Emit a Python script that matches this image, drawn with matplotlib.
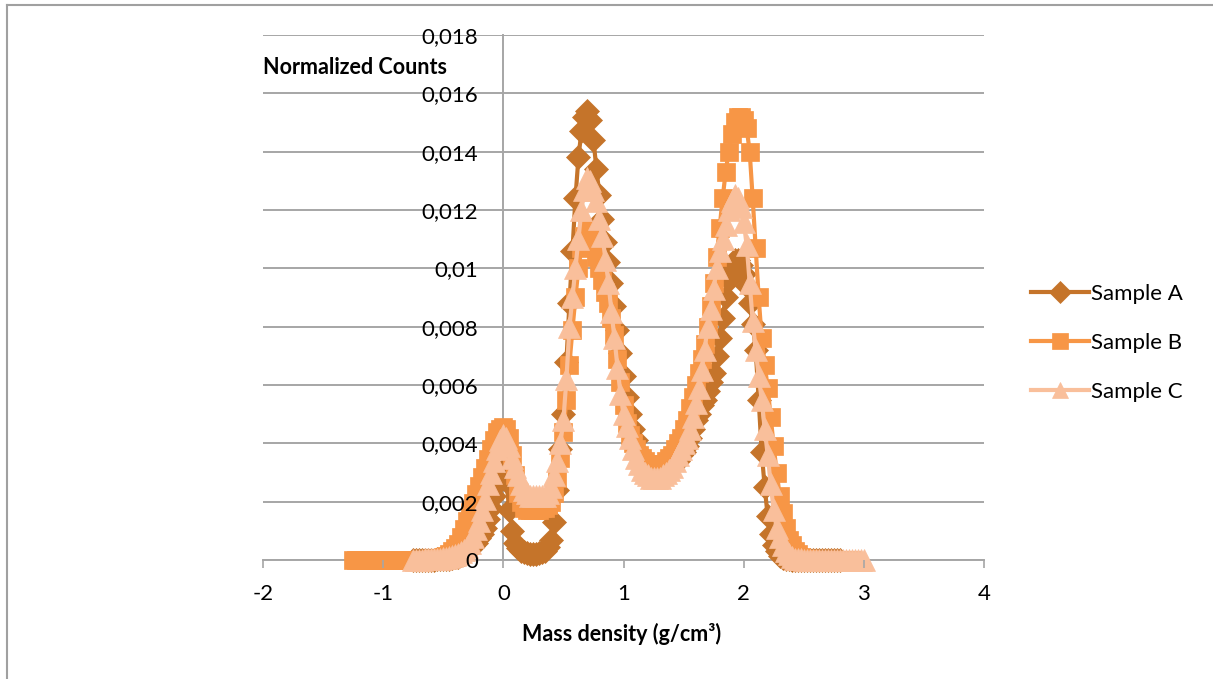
import numpy as np
import matplotlib
matplotlib.use("Agg")
import matplotlib.pyplot as plt
from matplotlib.lines import Line2D

plt.rcParams["font.family"] = ["Lato", "DejaVu Sans"]

# mass density bins (g/cm3), step of the sampled curves
STEP = 0.025
A_START = -0.75
B_START = -1.25
C_START = -0.75

# normalized counts, in units of 1e-4
A_COUNTS_E4 = [0] * 6 + [
    0.1, 0.1, 0.2, 0.2, 0.3, 0.4, 0.5, 0.7, 0.9, 1.2,      # -0.600 .. -0.375
    1.6, 2.1, 2.8, 3.7, 4.8, 6, 7.5, 9, 11, 14,            # -0.350 .. -0.125
    18, 22, 26, 29, 31, 27, 17, 10, 6, 4,                  # -0.100 .. 0.125
    3, 2.6, 2.3, 2.2, 2.2, 2.2, 2.3, 2.6, 3, 4.5,          # 0.150 .. 0.375
    7, 13, 24, 38, 50, 68, 88, 106, 124, 138,              # 0.400 .. 0.625
    147, 152, 154, 151, 144, 134, 125, 117, 109, 102,      # 0.650 .. 0.875
    95, 87, 79, 71, 63, 56, 50, 45, 41, 37,                # 0.900 .. 1.125
    34, 32, 31, 30, 29, 29, 29, 29, 30, 31,                # 1.150 .. 1.375
    32, 33, 34, 36, 37, 39, 42, 45, 48, 50,                # 1.400 .. 1.625
    53, 55, 58, 61, 64, 70, 76, 83, 90, 96,                # 1.650 .. 1.875
    100, 103, 103, 101, 98, 94, 88, 81, 72, 55,            # 1.900 .. 2.125
    37, 25, 15, 9, 5, 3, 1.5, 0.8, 0.4, 0.2,               # 2.150 .. 2.375
    0.1] + [0] * 16                                        # 2.400 .. 2.800

B_COUNTS_E4 = [0] * 26 + [
    0.2, 0.3, 0.5, 0.7, 1, 1.5, 2.2, 3, 4, 5.5,            # -0.600 .. -0.375
    8, 10.5, 13.5, 16.5, 19.5, 22.5, 25.5, 28.5, 31.5, 34.5,  # -0.350 .. -0.125
    38, 41, 44, 45, 45.5, 45, 42, 36, 29, 23,              # -0.100 .. 0.125
    20, 18, 17, 17, 17, 17, 17, 18, 18, 19,                # 0.150 .. 0.375
    20, 23, 28, 35, 44, 55, 67, 79, 90, 100,               # 0.400 .. 0.625
    107, 111, 113, 111, 108, 104, 100, 96, 92, 88,         # 0.650 .. 0.875
    83, 77, 69, 61, 53, 47, 43, 40, 38, 36,                # 0.900 .. 1.125
    35, 34, 33, 32, 32, 32, 32, 33, 34, 35,                # 1.150 .. 1.375
    36, 38, 40, 42, 45, 48, 52, 56, 60, 64,                # 1.400 .. 1.625
    69, 74, 80, 87, 95, 104, 114, 124, 133, 140,           # 1.650 .. 1.875
    146, 150, 152, 152, 151, 148, 140, 124, 107, 90,       # 1.900 .. 2.125
    76, 67, 59, 49, 39, 30, 22, 16, 11, 7,                 # 2.150 .. 2.375
    5, 3, 2, 1, 0.5, 0.3, 0.2, 0.1] + [0] * 13             # 2.400 .. 2.900

C_COUNTS_E4 = [
    0, 0, 0.1, 0.1, 0.2, 0.2, 0.3, 0.3, 0.4, 0.5,          # -0.750 .. -0.525
    0.6, 0.8, 1, 1.3, 1.7, 2.2, 2.8, 3.6, 4.6, 6,          # -0.500 .. -0.275
    8, 10.5, 13.5, 17, 21, 26, 30, 34, 38, 41,             # -0.250 .. -0.025
    43, 42, 39, 35, 32, 29, 26, 24, 23, 22,                # 0.000 .. 0.225
    22, 22, 22, 22, 22, 23, 25, 29, 34, 40,                # 0.250 .. 0.475
    48, 62, 80, 90, 100, 110, 120, 127, 131, 130,          # 0.500 .. 0.725
    127, 123, 117, 111, 103, 95, 85, 76, 66, 57,           # 0.750 .. 0.975
    50, 46, 42, 38, 35, 33, 31, 30, 29, 28,                # 1.000 .. 1.225
    28, 28, 28, 29, 30, 31, 32, 34, 36, 38,                # 1.250 .. 1.475
    40, 42, 45, 49, 54, 59, 65, 72, 80, 86,                # 1.500 .. 1.725
    93, 100, 106, 110, 115, 120, 123, 125, 124, 121,       # 1.750 .. 1.975
    116, 108, 95, 82, 72, 63, 55, 45, 36, 26,              # 2.000 .. 2.225
    17, 11, 8, 5, 3, 2, 1, 0.5, 0.3, 0.2,                  # 2.250 .. 2.475
    0.1] + [0] * 20                                        # 2.500 .. 3.000

SERIES = [
    ("Sample A", A_START, A_COUNTS_E4, "#C5742A", "D", 12.5),
    ("Sample B", B_START, B_COUNTS_E4, "#F79646", "s", 13.5),
    ("Sample C", C_START, C_COUNTS_E4, "#F9BF9B", "^", 15.5),
]

X_TICKS = [-2, -1, 0, 1, 2, 3, 4]
X_TICK_LABELS = ["-2", "-1", "0", "1", "2", "3", "4"]
Y_TICKS = [0, 0.002, 0.004, 0.006, 0.008, 0.01, 0.012, 0.014, 0.016, 0.018]
Y_TICK_LABELS = ["0", "0,002", "0,004", "0,006", "0,008", "0,01",
                 "0,012", "0,014", "0,016", "0,018"]

W, H = 1213, 679
GRID = "#A6A6A6"

fig = plt.figure(figsize=(W / 100, H / 100), dpi=100)
ax = fig.add_axes([263 / W, 1 - 560 / H, (984 - 263) / W, (560 - 35) / H])

# gridlines under the data, tick labels above it (as in the Excel export)
for yv in Y_TICKS:
    ax.axhline(yv, color=GRID, lw=1.4, zorder=0.5)

for label, start, counts, color, marker, ms in SERIES:
    y = np.array(counts) * 1e-4
    x = start + STEP * np.arange(len(y))
    ax.plot(x, y, color=color, lw=3, marker=marker, ms=ms,
            markerfacecolor=color, markeredgecolor=color, markeredgewidth=0.5,
            label=label, clip_on=False, zorder=2)

ax.set_xlim(-2, 4)
ax.set_ylim(0, 0.018)
ax.set_xticks(X_TICKS)
ax.set_xticklabels(X_TICK_LABELS)
ax.set_yticks(Y_TICKS)
ax.set_yticklabels(Y_TICK_LABELS)
ax.set_axisbelow(False)
ax.xaxis.set_zorder(3)
ax.yaxis.set_zorder(3)

for side in ("top", "right"):
    ax.spines[side].set_visible(False)
ax.spines["left"].set_position(("data", 0))
for side in ("left", "bottom"):
    ax.spines[side].set_color(GRID)
    ax.spines[side].set_linewidth(1.4)
    ax.spines[side].set_zorder(0.6)

ax.tick_params(axis="x", direction="out", length=6, width=1.2, color=GRID,
               labelsize=16, pad=11)
ax.tick_params(axis="y", direction="out", length=0, width=1.2, color=GRID,
               labelsize=16, pad=18)

fig.text(263 / W, 1 - 67 / H, "Normalized Counts", fontsize=15.5,
         fontweight="bold", ha="left", va="center")
fig.text(622 / W, 1 - 634 / H, "Mass density (g/cm³)", fontsize=15.5,
         fontweight="bold", ha="center", va="center",
         family=["Lato", "DejaVu Sans"])

leg = fig.legend(loc="center left", bbox_to_anchor=(1022 / W, 1 - 343 / H),
                 frameon=False, fontsize=16, handlelength=2.6, handletextpad=0.1,
                 labelspacing=1.3, borderaxespad=0)
for h in leg.legend_handles:
    h.set_markersize(11)

# chart frame (left and top edges visible in the export)
fig.add_artist(Line2D([7 / W, 7 / W], [0, 1 - 5 / H], transform=fig.transFigure,
                      color="#A0A0A0", lw=1.5))
fig.add_artist(Line2D([7 / W, 1], [1 - 5 / H, 1 - 5 / H], transform=fig.transFigure,
                      color="#A0A0A0", lw=1.5))

fig.savefig("out.png", dpi=100)
